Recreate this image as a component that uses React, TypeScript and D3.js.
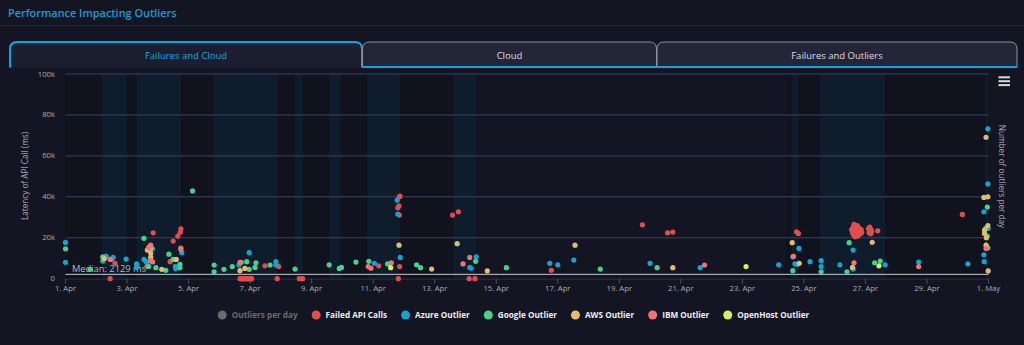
import React, { useEffect, useRef } from "react";
import * as d3 from "d3";

// day offsets from 1 Apr, latency in ms
const failedApiCalls: [number, number][] = [
  [1.45, 0], [5.67, 0], [5.72, 0], [5.76, 0], [5.8, 0], [5.84, 0], [5.88, 0], [5.92, 0], [5.96, 0], [6.0, 0], [6.05, 0],
  [6.88, 0], [7.6, 0], [7.71, 0], [10.82, 0], [13.12, 0], [13.31, 0],
  [1.5, 9400], [1.61, 7500], [2.64, 5900], [2.85, 22400], [3.4, 8300], [3.5, 18400], [3.65, 20800], [3.75, 24400], [3.73, 22700],
  [6.48, 6300], [6.93, 5900], [10.18, 6300],
  [10.85, 40000], [10.87, 40300], [10.8, 34600], [10.84, 35600], [10.85, 31100], [10.86, 5900],
  [12.58, 31100], [12.77, 32700], [15.79, 4100], [18.75, 26300], [19.57, 22400], [19.74, 22800],
  [23.76, 22900], [23.82, 22100],
  [25.55, 24000], [25.58, 22500], [25.6, 23500], [25.62, 21500], [25.63, 26500], [25.65, 23000], [25.67, 24500],
  [25.68, 21000], [25.7, 22000], [25.72, 25500], [25.73, 23500], [25.75, 20800], [25.77, 22800], [25.78, 24800],
  [25.8, 21800], [25.82, 23200], [25.84, 22000], [25.86, 24000], [25.88, 22600], [25.66, 20500], [25.74, 26000], [25.6, 25200],
  [26.1, 24500], [26.12, 22500], [26.14, 25200], [26.15, 23500], [26.17, 22000], [26.18, 24000], [26.2, 23000], [26.4, 23400],
  [29.15, 31400],
];
const azureOutlier: [number, number][] = [
  [0.0, 17700], [0.0, 8000], [1.21, 8600], [1.32, 11000], [1.55, 10400], [1.97, 9600], [2.31, 7200], [2.31, 5500],
  [2.55, 9400], [2.6, 8600], [2.64, 8000], [2.83, 14600], [3.57, 6000], [3.58, 5000], [3.78, 12700],
  [5.64, 6700], [5.97, 12700], [6.84, 8300], [6.84, 6800], [10.04, 7500], [10.78, 38400], [10.8, 31600], [10.88, 10400],
  [13.35, 10700], [13.14, 5500], [13.18, 5100], [15.74, 7500], [16.0, 6800], [16.52, 9100], [19.0, 7500],
  [20.63, 5400], [23.18, 6800], [23.84, 14800], [23.64, 10700], [23.71, 7200], [23.79, 7000], [24.2, 8300],
  [24.56, 8800], [24.56, 5900], [25.17, 6800], [25.6, 14000], [25.6, 4700], [26.64, 6800], [27.73, 8100], [29.33, 7200],
  [29.98, 73200], [29.98, 46300], [29.85, 32700], [29.99, 24600], [29.85, 11700], [29.86, 8300],
];
const googleOutlier: [number, number][] = [
  [0.0, 14600], [0.8, 4600], [1.21, 10700], [2.55, 19700], [2.7, 6000], [2.94, 5400], [3.26, 4100], [3.36, 12000],
  [3.5, 9400], [3.72, 7000], [3.72, 5400], [4.13, 42900], [4.83, 6700], [4.83, 3400], [5.15, 4600], [5.42, 5900],
  [5.71, 8000], [5.89, 8300], [5.97, 4600], [6.16, 5500], [6.19, 7800], [6.65, 6700], [7.46, 4700], [8.57, 6800],
  [8.9, 5000], [8.97, 5500], [9.44, 8100], [9.86, 8500], [10.47, 7200], [11.41, 6800], [11.54, 5400], [13.33, 8500],
  [14.33, 5400], [17.38, 4700], [19.23, 5400], [23.64, 3900], [24.56, 3400], [25.4, 3400], [25.47, 17600],
  [26.3, 7800], [26.48, 8600], [29.96, 35000], [29.91, 24600], [29.96, 20800], [29.98, 15100],
];
const awsOutlier: [number, number][] = [
  [1.26, 9800], [2.66, 14000], [2.77, 15000], [2.77, 12500], [2.77, 10500], [3.13, 4600], [3.6, 9400],
  [5.67, 3900], [5.83, 5000], [10.84, 16400], [11.9, 4700], [12.73, 17100], [13.71, 3800], [16.56, 16400],
  [19.74, 5400], [23.62, 17600], [23.85, 7500], [25.58, 5500], [26.22, 17800], [29.92, 69100], [29.85, 39700],
  [29.98, 40000], [29.98, 26000], [29.87, 23700], [29.87, 22100], [29.93, 20000], [29.92, 16400], [29.99, 3800],
];
const ibmOutlier: [number, number][] = [
  [1.45, 9400], [2.7, 15200], [2.74, 15800], [2.77, 16400], [2.77, 8800], [2.83, 8200], [3.75, 15000], [3.75, 14400],
  [5.67, 8000], [9.84, 5900], [9.93, 5100], [10.59, 7800], [12.92, 7200], [13.14, 10400], [20.77, 6700],
  [23.66, 10900], [25.63, 7800], [27.73, 5900], [29.92, 14800],
];
const openHostOutlier: [number, number][] = [
  [10.57, 5400], [22.12, 5900], [26.44, 6300],
];

// shaded day bands (outliers per day background)
const blueBands: [number, number][] = [
  [1.18, 1.99], [2.31, 3.75], [4.8, 6.9], [7.46, 7.71], [8.57, 8.94], [9.81, 10.87], [12.6, 13.36],
  [23.6, 23.82], [24.52, 26.63], [29.89, 30.0],
];
const darkBands: [number, number][] = [[0, 13.4], [23.4, 30]];

const xTickDays = [0, 2, 4, 6, 8, 10, 12, 14, 16, 18, 20, 22, 24, 26, 28, 30];
const xTickLabels = ["1. Apr", "3. Apr", "5. Apr", "7. Apr", "9. Apr", "11. Apr", "13. Apr", "15. Apr", "17. Apr",
  "19. Apr", "21. Apr", "23. Apr", "25. Apr", "27. Apr", "29. Apr", "1. May"];
const yTicks = [0, 20000, 40000, 60000, 80000, 100000];
const medianMs = 2129;
const tabs = ["Failures and Cloud", "Cloud", "Failures and Outliers"];

const seriesList = [
  { name: "Failed API Calls", color: "#e04f4d", data: failedApiCalls },
  { name: "Azure Outlier", color: "#17a2cf", data: azureOutlier },
  { name: "Google Outlier", color: "#47d18a", data: googleOutlier },
  { name: "AWS Outlier", color: "#e3bd6c", data: awsOutlier },
  { name: "IBM Outlier", color: "#f07474", data: ibmOutlier },
  { name: "OpenHost Outlier", color: "#d7ef5e", data: openHostOutlier },
];

const FONT = "'Open Sans', 'Noto Sans', sans-serif";
const start = Date.UTC(2024, 3, 1);
const toDate = (d: number) => new Date(start + d * 864e5);

export default function App() {
  const ref = useRef<SVGSVGElement>(null);

  useEffect(() => {
    const svg = d3.select(ref.current);
    svg.selectAll("*").remove();

    const x = d3.scaleUtc().domain([toDate(0), toDate(30)]).range([65.5, 988.5]);
    const y = d3.scaleLinear().domain([0, 100000]).range([278.7, 74]);

    // header
    svg.append("text").attr("x", 8).attr("y", 16.5).text("Performance Impacting Outliers")
      .attr("font-family", FONT).attr("font-size", 10.9).attr("font-weight", 600).attr("fill", "#1b9ad8");
    svg.append("line").attr("x1", 0).attr("x2", 1024).attr("y1", 25.5).attr("y2", 25.5).attr("stroke", "#232735");

    // tabs
    const tabX = [10, 362.5, 657];
    const tabR = [362, 656.5, 1017];
    const tabPath = (l: number, r: number, t: number, b: number, rad: number) =>
      `M${l},${b} L${l},${t + rad} Q${l},${t} ${l + rad},${t} L${r - rad},${t} Q${r},${t} ${r},${t + rad} L${r},${b}`;
    tabs.forEach((name, i) => {
      const active = i === 0;
      const g = svg.append("g");
      g.append("path").attr("d", tabPath(tabX[i], tabR[i], 42, 67.5, 7) + "Z")
        .attr("fill", active ? "#1b1e2e" : "#232637").attr("stroke", "none");
      g.append("path").attr("d", tabPath(tabX[i], tabR[i], 42, 67.5, 7))
        .attr("fill", "none").attr("stroke", active ? "#0fa3e6" : "#8d90a0")
        .attr("stroke-width", active ? 2 : 1);
      if (!active) {
        g.append("line").attr("x1", tabX[i]).attr("x2", tabR[i]).attr("y1", 67).attr("y2", 67)
          .attr("stroke", "#0fa3e6").attr("stroke-width", 2);
      }
      g.append("text").attr("x", (tabX[i] + tabR[i]) / 2).attr("y", 58.5).attr("text-anchor", "middle")
        .attr("font-family", FONT).attr("font-size", 9.5).attr("fill", active ? "#1ba1e2" : "#dcdde4").text(name);
    });

    // plot bands
    svg.append("g").selectAll("rect").data(darkBands).join("rect")
      .attr("x", (d) => x(toDate(d[0]))).attr("width", (d) => x(toDate(d[1])) - x(toDate(d[0])))
      .attr("y", y(100000)).attr("height", y(0) - y(100000)).attr("fill", "#10131d");
    svg.append("g").selectAll("rect").data(blueBands).join("rect")
      .attr("x", (d) => x(toDate(d[0]))).attr("width", (d) => x(toDate(d[1])) - x(toDate(d[0])))
      .attr("y", y(100000)).attr("height", y(0) - y(100000)).attr("fill", "#0f1c2c");

    // grid + y labels
    const grid = svg.append("g");
    grid.selectAll("line").data(yTicks.filter((t) => t > 0)).join("line")
      .attr("x1", 65.5).attr("x2", 988.5).attr("y1", (d) => y(d)).attr("y2", (d) => y(d))
      .attr("stroke", "#3b4164").attr("stroke-width", 1);
    svg.append("g").selectAll("text").data(yTicks).join("text")
      .attr("x", 55).attr("y", (d) => y(d) + 2.5).attr("text-anchor", "end")
      .attr("font-family", FONT).attr("font-size", 7.7).attr("fill", "#a9abb5")
      .text((d) => (d === 0 ? "0" : d / 1000 + "k"));

    // x axis
    svg.append("line").attr("x1", 65.5).attr("x2", 988.5).attr("y1", y(0) + 0.5).attr("y2", y(0) + 0.5)
      .attr("stroke", "#2a2f45");
    const xt = svg.append("g");
    xt.selectAll("line").data(xTickDays).join("line")
      .attr("x1", (d) => x(toDate(d))).attr("x2", (d) => x(toDate(d))).attr("y1", y(0)).attr("y2", y(0) + 5)
      .attr("stroke", "#4a4f66");
    xt.selectAll("text").data(xTickDays).join("text")
      .attr("x", (d) => x(toDate(d))).attr("y", 290.5).attr("text-anchor", "middle")
      .attr("font-family", FONT).attr("font-size", 7.7).attr("fill", "#a9abb5")
      .text((d, i) => xTickLabels[i]);

    // axis titles
    svg.append("text").attr("transform", `translate(28,176) rotate(-90)`).attr("text-anchor", "middle")
      .attr("font-family", FONT).attr("font-size", 8.2).attr("fill", "#a9abb5").text("Latency of API Call (ms)");
    svg.append("text").attr("transform", `translate(998.5,176.5) rotate(90)`).attr("text-anchor", "middle")
      .attr("font-family", FONT).attr("font-size", 8.2).attr("fill", "#a9abb5").text("Number of outliers per day");

    // median plot line
    svg.append("line").attr("x1", 65.5).attr("x2", 988.5).attr("y1", y(medianMs)).attr("y2", y(medianMs))
      .attr("stroke", "#c9cad2").attr("stroke-width", 1);
    svg.append("text").attr("x", 72).attr("y", y(medianMs) - 2.5).text(`Median: ${medianMs} ms`)
      .attr("font-family", FONT).attr("font-size", 9.3).attr("fill", "#b8b9c2");

    // points
    seriesList.forEach((s) => {
      svg.append("g").selectAll("circle").data(s.data).join("circle")
        .attr("cx", (d) => x(toDate(d[0]))).attr("cy", (d) => y(d[1])).attr("r", 2.6)
        .attr("fill", s.color);
    });

    // menu icon
    svg.append("g").selectAll("line").data([0, 1, 2]).join("line")
      .attr("x1", 998.5).attr("x2", 1010).attr("y1", (d) => 77.3 + d * 3.9).attr("y2", (d) => 77.3 + d * 3.9)
      .attr("stroke", "#d8d9e0").attr("stroke-width", 2);

    // legend
    const legendItems = [{ name: "Outliers per day", color: "#6b6b6b", hidden: true },
      ...seriesList.map((s) => ({ name: s.name, color: s.color, hidden: false }))];
    const lg = svg.append("g");
    let cx = 0;
    legendItems.forEach((it) => {
      const g = lg.append("g").attr("transform", `translate(${cx},0)`);
      g.append("circle").attr("cx", 4.5).attr("cy", 0).attr("r", 4.5).attr("fill", it.color);
      const t = g.append("text").attr("x", 14).attr("y", 3).text(it.name)
        .attr("font-family", FONT).attr("font-size", 8.2).attr("font-weight", 700)
        .attr("fill", it.hidden ? "#6b6b6b" : "#eceef2");
      const w = (t.node() as SVGTextElement).getComputedTextLength();
      cx += 14 + w + 14;
    });
    const total = cx - 14;
    lg.attr("transform", `translate(${513.5 - total / 2},315)`);
  }, []);

  return (
    <svg ref={ref} width={1024} height={345}
      style={{ position: "absolute", left: 0, top: 0, background: "#131622", display: "block" }} />
  );
}
